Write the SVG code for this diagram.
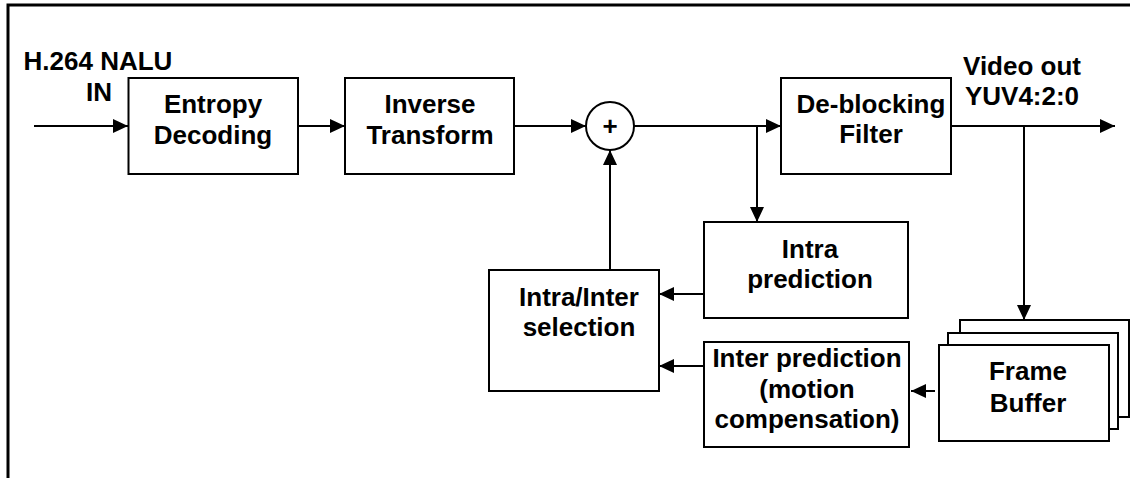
<svg xmlns="http://www.w3.org/2000/svg" width="1130" height="478" viewBox="0 0 1130 478">
<style>
.box{fill:#fff;stroke:#000;stroke-width:2}
.t{font-family:"Liberation Sans",Arial,sans-serif;font-weight:bold;font-size:26px;fill:#000;text-anchor:middle}
.c{fill:none;stroke:#000;stroke-width:2}
</style>
<defs>
<marker id="ah" markerUnits="userSpaceOnUse" markerWidth="15" markerHeight="14" refX="15" refY="7" orient="auto">
<path d="M0,0 L15,7 L0,14 z" fill="#000"/>
</marker>
</defs>
<rect width="1130" height="478" fill="#fff"/>
<path d="M8,478 V5 H1130" fill="none" stroke="#000" stroke-width="3"/>
<g id="label-in">
<text class="t" x="98" y="70">H.264 NALU</text>
<text class="t" x="99" y="101">IN</text>
</g>
<g id="label-out">
<text class="t" x="1022" y="75">Video out</text>
<text class="t" x="1022" y="105">YUV4:2:0</text>
</g>
<g id="connectors" class="c">
<path d="M34,126 H128" marker-end="url(#ah)"/>
<path d="M298,126 H345" marker-end="url(#ah)"/>
<path d="M514,126 H586" marker-end="url(#ah)"/>
<path d="M634,126 H781" marker-end="url(#ah)"/>
<path d="M757,126 V222" marker-end="url(#ah)"/>
<path d="M951,126 H1115" marker-end="url(#ah)"/>
<path d="M1024,126 V320" marker-end="url(#ah)"/>
<path d="M704,294 H659" marker-end="url(#ah)"/>
<path d="M704,366 H659" marker-end="url(#ah)"/>
<path d="M935,391 H911" marker-end="url(#ah)"/>
<path d="M610,270 V150" marker-end="url(#ah)"/>
</g>
<g id="entropy">
<rect class="box" x="128.5" y="78" width="169.5" height="96"/>
<text class="t" x="213" y="113">Entropy</text>
<text class="t" x="213" y="144">Decoding</text>
</g>
<g id="inverse">
<rect class="box" x="345" y="78" width="169" height="96"/>
<text class="t" x="430" y="113">Inverse</text>
<text class="t" x="430" y="144">Transform</text>
</g>
<g id="adder">
<circle cx="610" cy="126" r="24" fill="#fff" stroke="#000" stroke-width="2"/>
<text class="t" x="610" y="135">+</text>
</g>
<g id="deblocking">
<rect class="box" x="781" y="78" width="170" height="96"/>
<text class="t" x="871" y="113">De-blocking</text>
<text class="t" x="871" y="143">Filter</text>
</g>
<g id="intra">
<rect class="box" x="704" y="222" width="204" height="96"/>
<text class="t" x="810" y="258">Intra</text>
<text class="t" x="810" y="288">prediction</text>
</g>
<g id="selection">
<rect class="box" x="489" y="270" width="170" height="121"/>
<text class="t" x="579" y="306">Intra/Inter</text>
<text class="t" x="579" y="336">selection</text>
</g>
<g id="inter">
<rect class="box" x="704" y="342" width="205" height="105"/>
<text class="t" x="807" y="367">Inter prediction</text>
<text class="t" x="807" y="398">(motion</text>
<text class="t" x="807" y="428">compensation)</text>
</g>
<g id="framebuffer">
<rect class="box" x="960" y="320" width="169" height="97"/>
<rect class="box" x="948" y="333" width="170" height="96"/>
<rect class="box" x="939" y="345" width="170" height="96"/>
<text class="t" x="1028" y="380">Frame</text>
<text class="t" x="1028" y="412">Buffer</text>
</g>
</svg>
